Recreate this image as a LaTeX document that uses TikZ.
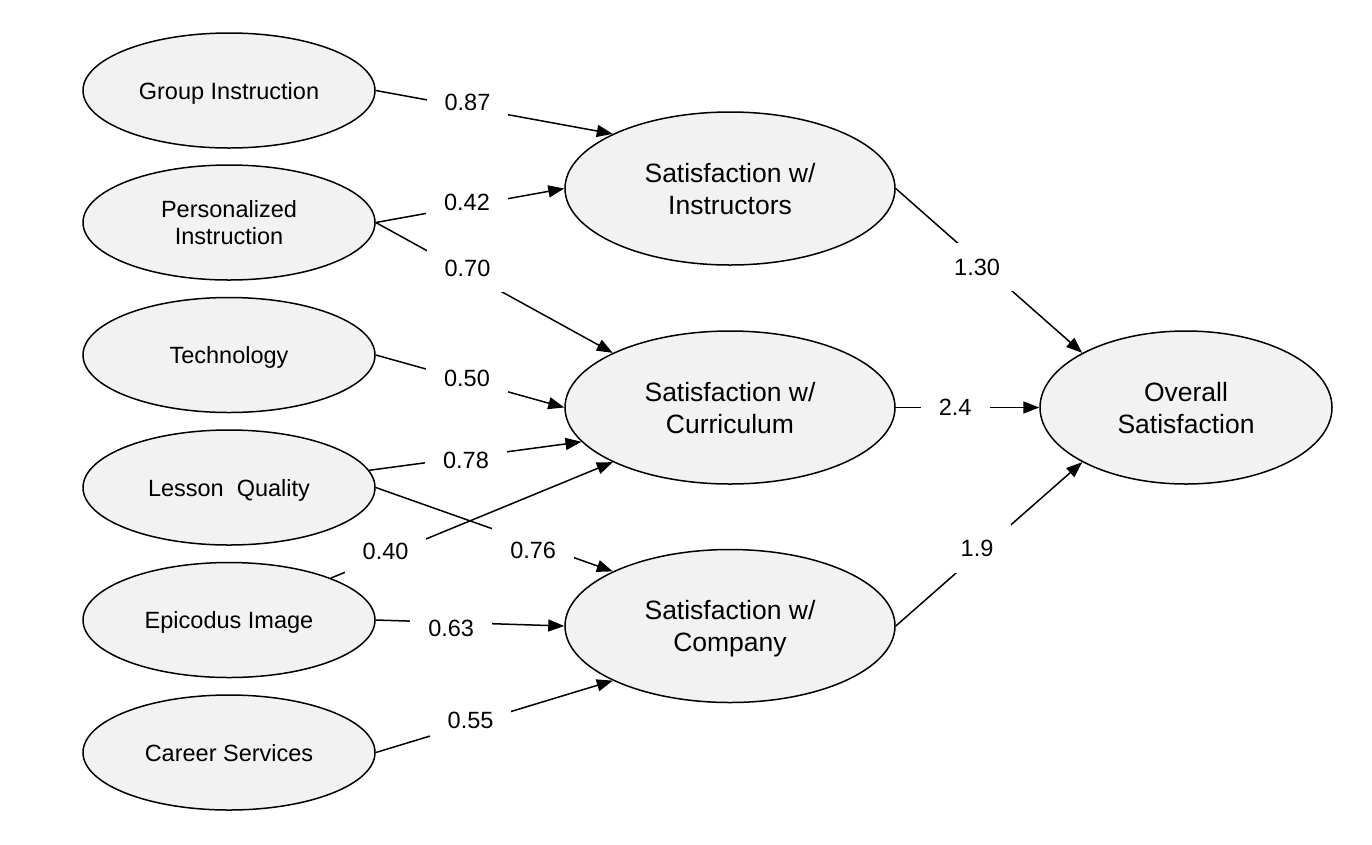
\documentclass[tikz,border=0pt]{standalone}
\usepackage{fontspec}
\setmainfont{Liberation Sans}
\usetikzlibrary{shapes.geometric,arrows.meta}
\definecolor{ellfill}{HTML}{F2F2F2}
\tikzset{
  small/.style={ellipse, draw=black, fill=ellfill, line width=1.5pt, minimum width=292pt, minimum height=115pt, inner sep=0pt, align=center, text depth=0pt, font=\fontsize{23.5}{27}\selectfont},
  big/.style={ellipse, draw=black, fill=ellfill, line width=1.5pt, minimum width=330pt, minimum height=153pt, inner sep=0pt, align=center, text depth=0pt, font=\fontsize{26.5}{32}\selectfont},
  ovr/.style={ellipse, draw=black, fill=ellfill, line width=1.5pt, minimum width=292pt, minimum height=153pt, inner sep=0pt, align=center, text depth=0pt, font=\fontsize{26.5}{32}\selectfont},
  conn/.style={line width=1.5pt, -{Triangle[length=16pt,width=12pt]}},
  lbl/.style={fill=white, inner xsep=18pt, inner ysep=16pt, font=\fontsize{23.5}{27}\selectfont, text=black}
}
\begin{document}
\begin{tikzpicture}[x=1pt,y=-1pt]
\useasboundingbox (0,0) rectangle (1372,844);
% small ellipses
\node[small] (gi) at (229,90.5) {Group Instruction};
\node[small] (pi) at (229,222.5) {Personalized\\Instruction};
\node[small] (te) at (229,355) {Technology};
\node[small] (lq) at (229,487.5) {Lesson~~Quality};
\node[small] (ep) at (229,620) {Epicodus Image};
\node[small] (cs) at (229,752.5) {Career Services};
% big ellipses
\node[big] (ins) at (730,188.5) {Satisfaction w/\\Instructors};
\node[big] (cur) at (730,407.5) {Satisfaction w/\\Curriculum};
\node[big] (com) at (730,626) {Satisfaction w/\\Company};
\node[ovr] (ovr) at (1186,407.5) {Overall\\Satisfaction};
% connectors
\draw[conn] (gi.east) -- node[lbl, pos=0.387, yshift=5pt] {0.87} (ins.north west);
\draw[conn] (pi.east) -- node[lbl, pos=0.484, yshift=4pt] {0.42} (ins.west);
\draw[conn] (pi.east) -- node[lbl, pos=0.387, yshift=5pt] {0.70} (cur.north west);
\draw[conn] (te.east) -- node[lbl, pos=0.484, yshift=2pt] {0.50} (cur.west);
\draw[conn] (lq.7.5) -- node[lbl, pos=0.456, yshift=-3pt] {0.78} (cur.193);
\draw[conn] (lq.east) -- node[lbl, pos=0.664, yshift=-7pt] {0.76} (com.north west);
\draw[conn] (ep) -- node[lbl, pos=0.194, yshift=4pt] {0.40} (cur.south west);
\draw[conn] (ep.east) -- node[lbl, pos=0.4, yshift=-6pt] {0.63} (com.west);
\draw[conn] (cs.east) -- node[lbl, pos=0.4, yshift=3pt] {0.55} (com.south west);
\draw[conn] (ins.east) -- node[lbl, pos=0.436, yshift=-7pt] {1.30} (ovr.north west);
\draw[conn] (cur.east) -- node[lbl, pos=0.414] {2.4} (ovr.west);
\draw[conn] (com.east) -- node[lbl, pos=0.436, yshift=6pt] {1.9} (ovr.south west);
\end{tikzpicture}
\end{document}
